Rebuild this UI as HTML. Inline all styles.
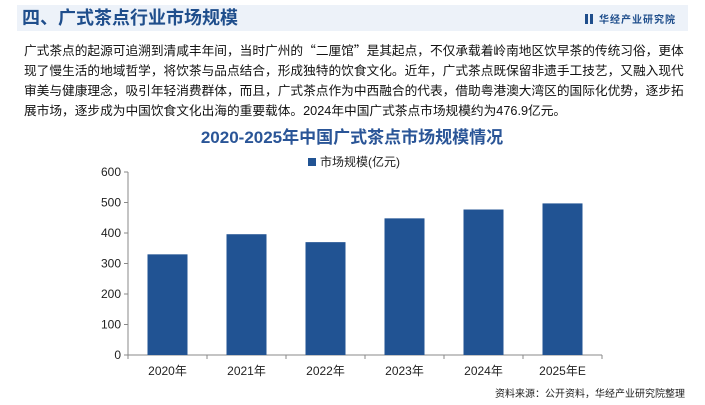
<!DOCTYPE html>
<html><head><meta charset="utf-8"><style>
body{margin:0;width:705px;height:405px;background:#fff;overflow:hidden;position:relative;font-family:"Liberation Sans","Noto Sans CJK SC",sans-serif}
.hdr{position:absolute;left:17px;top:5px;width:671px;height:26px;background:#edf2f9}
.hdr h1{margin:0;position:absolute;left:5px;top:1px;font-size:18px;font-weight:bold;color:#1f4e8c;line-height:24px}
.brand{position:absolute;right:12px;top:6px;font-size:10px;font-weight:bold;color:#1f4e8c;letter-spacing:1px}
.brand i{display:inline-block;width:3px;height:10px;background:#1f4e8c;margin-right:2px;vertical-align:-1px}
.body{position:absolute;left:24px;top:40px;width:690px;font-size:12.7px;line-height:20px;color:#111;white-space:nowrap}
.q{font-family:"Noto Sans CJK SC",sans-serif}
.src{position:absolute;right:20px;top:385px;font-size:10px;color:#222}
</style></head><body>
<div class="hdr"><h1>四、广式茶点行业市场规模</h1>
<div class="brand"><i></i><i></i> 华经产业研究院</div></div>
<div class="body">广式茶点的起源可追溯到清咸丰年间，当时广州的<span class="q">“</span>二厘馆<span class="q">”</span>是其起点，不仅承载着岭南地区饮早茶的传统习俗，更体<br>现了慢生活的地域哲学，将饮茶与品点结合，形成独特的饮食文化。近年，广式茶点既保留非遗手工技艺，又融入现代<br>审美与健康理念，吸引年轻消费群体，而且，广式茶点作为中西融合的代表，借助粤港澳大湾区的国际化优势，逐步拓<br>展市场，逐步成为中国饮食文化出海的重要载体。2024年中国广式茶点市场规模约为476.9亿元。</div>
<svg id="chart" width="705" height="405" style="position:absolute;left:0;top:0"></svg>
<div class="src">资料来源：公开资料，华经产业研究院整理</div>
<script>
const categories=["2020年","2021年","2022年","2023年","2024年","2025年E"];
const values=[330,396,370,448,477,497];
const yTicks=[0,100,200,300,400,500,600];
const svg=document.getElementById('chart');const NS="http://www.w3.org/2000/svg";
const x0=128,x1=602,y0=355,y1=172,ymax=600;
const bw=(x1-x0)/categories.length;
const ys=v=>y0-(v/ymax)*(y0-y1);
function el(t,a,txt){const e=document.createElementNS(NS,t);for(const k in a)e.setAttribute(k,a[k]);if(txt!==undefined)e.textContent=txt;svg.appendChild(e);return e;}
let t=el('text',{x:352,y:143,'text-anchor':'middle','font-size':17,'font-weight':'bold',fill:'#2a5597'},'2020-2025年中国广式茶点市场规模情况');


let lr=el('rect',{x:308,y:158,width:8,height:8,fill:'#215393'});


let lt=el('text',{x:320,y:166,'font-size':12,fill:'#222'},'市场规模(亿元)');


el('line',{x1:x0,y1:y1,x2:x0,y2:y0,stroke:'#888'});
el('line',{x1:x0,y1:y0,x2:x1,y2:y0,stroke:'#888'});
yTicks.forEach(v=>{el('line',{x1:x0-4,y1:ys(v),x2:x0,y2:ys(v),stroke:'#888'});
const tx=el('text',{x:x0-7,y:ys(v)+4,'text-anchor':'end','font-size':12,fill:'#222'},v);

});
for(let i=0;i<=categories.length;i++)el('line',{x1:x0+i*bw,y1:y0,x2:x0+i*bw,y2:y0+4,stroke:'#888'});
categories.forEach((c,i)=>{const cx=x0+bw*(i+0.5);
const r=el('rect',{x:cx-20,y:ys(values[i]),width:40,height:y0-ys(values[i]),fill:'#215393'});


const tx=el('text',{x:cx,y:375,'text-anchor':'middle','font-size':12,fill:'#222'},c);

});
</script>
</body></html>
